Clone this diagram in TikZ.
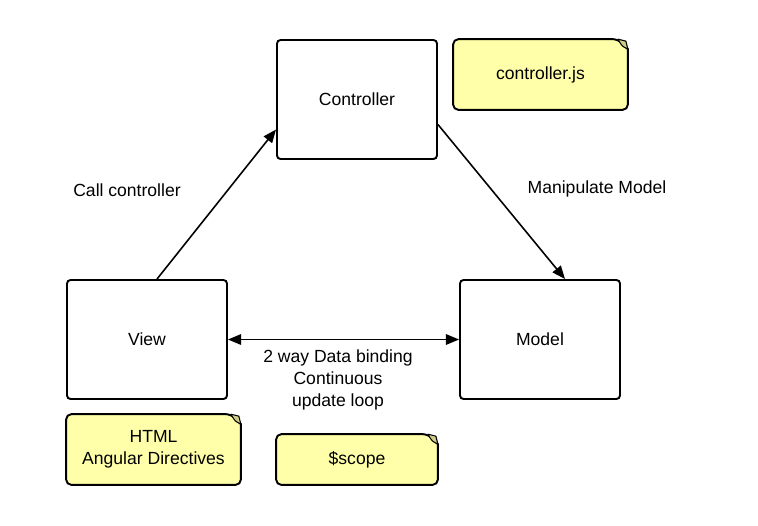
\documentclass[tikz,border=0pt]{standalone}
\usepackage{fontspec}
\setmainfont{Liberation Sans}
\usetikzlibrary{%
  arrows,%
  arrows.meta,%
  positioning,%
  calc%
}
\definecolor{noteyellow}{RGB}{255,255,170}
\definecolor{notefold}{RGB}{205,205,135}

\begin{document}
\begin{tikzpicture}
  [
  x=0.02cm, y=-0.02cm,
  font=\fontsize{10}{12.5}\selectfont, line width=1pt, draw=black,
  >={Triangle[length=7.5pt,width=6pt]},
  blockbox/.style={rectangle, rounded corners=2pt, draw=black, line width=1.1pt,
    minimum width=3.2cm, minimum height=2.38cm, inner sep=0pt},
  notebox/.style={rectangle, inner sep=0pt, align=center,
    minimum width=3.46cm, minimum height=1.38cm},
  notepath/.style={draw=black, fill=noteyellow, line width=1.1pt},
  link/.style={line width=0.9pt},
  ]
  \useasboundingbox (0,0) rectangle (758,525);

  % blocks
  \node[blockbox] (ctrl) at (357,99.5) {Controller};
  \node[blockbox] (view) at (147,339.5) {View};
  \node[blockbox] (model) at (540,339.5) {Model};

  % notes
  \node[notebox] (cjs) at (540.5,74.5) {};
  \node[notebox] (html) at (153.5,449.5) {};
  \node[notebox, minimum width=3.2cm, minimum height=0.98cm] (scope) at (357,459.5) {};

  \foreach \n in {cjs,html,scope} {
    \draw[notepath] (\n.south west) [rounded corners=3pt] -- (\n.north west)
      -- ($(\n.north east)+(-10,0)$) [sharp corners] -- ($(\n.north east)+(0,10)$)
      [rounded corners=3pt] -- (\n.south east) -- cycle;
    \filldraw[notefold, draw=black, line width=0.6pt] ($(\n.north east)+(-10,0)$)
      -- ($(\n.north east)+(-2,2)$) -- ($(\n.north east)+(0,10)$)
      .. controls ($(\n.north east)+(-6,7)$) .. ($(\n.north east)+(-10,0)$);
  }
  \node at (cjs) {controller.js};
  \node[align=center] at (html) {HTML\\Angular Directives};
  \node at (scope) {\$scope};

  % connectors
  \draw[link,->] ($(view.north)+(10,0)$) -- ($(ctrl.west)+(0,30)$);
  \draw[link,->] ($(ctrl.east)+(0,25)$) -- ($(model.north)+(25,0)$);
  \draw[link,<->] (view.east) -- (model.west);

  % labels
  \node (lcall) at (127,190) {Call controller};
  \node (lmanip) at (597,189) {Manipulate Model};
  \node[align=center] (lbind) at (338,380) {2 way Data binding\\Continuous\\update loop};
\end{tikzpicture}
\end{document}
